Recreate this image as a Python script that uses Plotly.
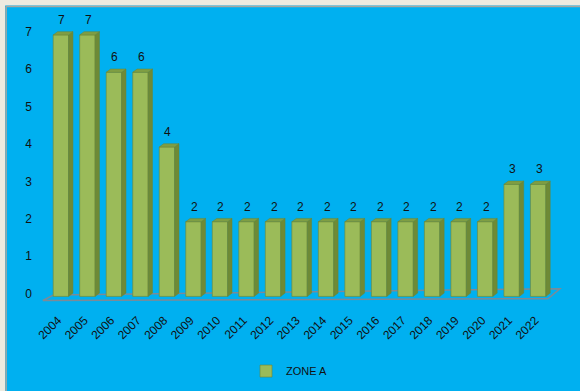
import plotly.graph_objects as go

# Zone A counts per year
years = ["2004", "2005", "2006", "2007", "2008", "2009", "2010", "2011", "2012", "2013",
         "2014", "2015", "2016", "2017", "2018", "2019", "2020", "2021", "2022"]
zone_a = [7, 7, 6, 6, 4, 2, 2, 2, 2, 2, 2, 2, 2, 2, 2, 2, 2, 3, 3]
y_ticks = [0, 1, 2, 3, 4, 5, 6, 7]

FRONT = "#9BBB59"
SIDE = "#6E8A36"
TOP = "#7F9E44"
EDGE = "#6B8534"
BLUE = "#00B0F0"
BEIGE = "#EEEBE0"
FRAME = "#A8A8A0"
FLOOR = "#7D8A96"

W = 0.29     # half width of a bar front face (category units)
DX = 0.165   # depth offset in x (category units)
DY = 0.088   # depth offset in y (value units)

xs = list(range(len(years)))

fig = go.Figure()
fig.add_trace(go.Bar(
    x=xs, y=zone_a, name="ZONE A", width=2 * W,
    marker=dict(color=FRONT, line=dict(color=EDGE, width=0.6)),
    hoverinfo="x+y",
))

shapes = []
# page margin strips along the top and left of the blue panel
shapes.append(dict(type="rect", xref="paper", yref="paper", layer="below",
                   x0=-0.2, x1=-0.0689, y0=-0.5, y1=1.2,
                   fillcolor=BEIGE, line=dict(width=0)))
shapes.append(dict(type="rect", xref="paper", yref="paper", layer="below",
                   x0=-0.2, x1=1.2, y0=1.0224, y1=1.2,
                   fillcolor=BEIGE, line=dict(width=0)))
shapes.append(dict(type="line", xref="paper", yref="paper", layer="below",
                   x0=-0.0670, x1=-0.0670, y0=-0.5, y1=1.019,
                   line=dict(color=FRAME, width=1.5)))
shapes.append(dict(type="line", xref="paper", yref="paper", layer="below",
                   x0=-0.0670, x1=1.2, y0=1.019, y1=1.019,
                   line=dict(color=FRAME, width=1.5)))
# 3D floor under the bars
shapes.append(dict(type="path", xref="x", yref="y", layer="below",
                   path="M -0.68,-0.11 L 18.37,-0.062 L 18.82,0.206 L -0.275,0.04 Z",
                   fillcolor="rgba(0,0,0,0)", line=dict(color=FLOOR, width=1.5)))

# side and top faces of each bar, derived from its value
for i, v in zip(xs, zone_a):
    xl, xr = i - W, i + W
    shapes.append(dict(type="path", xref="x", yref="y", layer="above",
                       path=f"M {xr},0 L {xr + DX},{DY} L {xr + DX},{v + DY} L {xr},{v} Z",
                       fillcolor=SIDE, line=dict(color=EDGE, width=0.5)))
    shapes.append(dict(type="path", xref="x", yref="y", layer="above",
                       path=f"M {xl},{v} L {xl + DX},{v + DY} L {xr + DX},{v + DY} L {xr},{v} Z",
                       fillcolor=TOP, line=dict(color=EDGE, width=0.5)))

# value labels above bars
annotations = [dict(x=i, y=v, xref="x", yref="y", text=str(v), showarrow=False,
                    yanchor="middle", yshift=15, xshift=1,
                    font=dict(size=12, color="#111111"))
               for i, v in zip(xs, zone_a)]

fig.update_layout(
    width=580, height=391,
    margin=dict(l=41.4, r=17.9, t=12, b=89.4, autoexpand=False),
    paper_bgcolor=BLUE,
    plot_bgcolor="rgba(0,0,0,0)",
    font=dict(family="Liberation Sans, Arial, sans-serif", size=12, color="#111111"),
    shapes=shapes,
    annotations=annotations,
    showlegend=True,
    legend=dict(orientation="h", x=0.477, xanchor="center",
                yref="container", y=0.051, yanchor="middle",
                bgcolor="rgba(0,0,0,0)", font=dict(size=11, color="#111111")),
    bargap=0.4,
)
fig.update_xaxes(
    range=[-0.75, 18.9], tickmode="array", tickvals=xs, ticktext=years,
    tickangle=-45, showgrid=False, zeroline=False, showline=False, ticks="",
    tickfont=dict(size=12), ticklabelstandoff=8, ticklabelshift=-3, automargin=False,
)
fig.update_yaxes(
    range=[-0.15, 7.614], tickmode="array", tickvals=y_ticks,
    showgrid=False, zeroline=False, showline=False, ticks="",
    tickfont=dict(size=12), ticklabelstandoff=8, ticklabelshift=-3, automargin=False,
)

fig.write_html("out.html")
